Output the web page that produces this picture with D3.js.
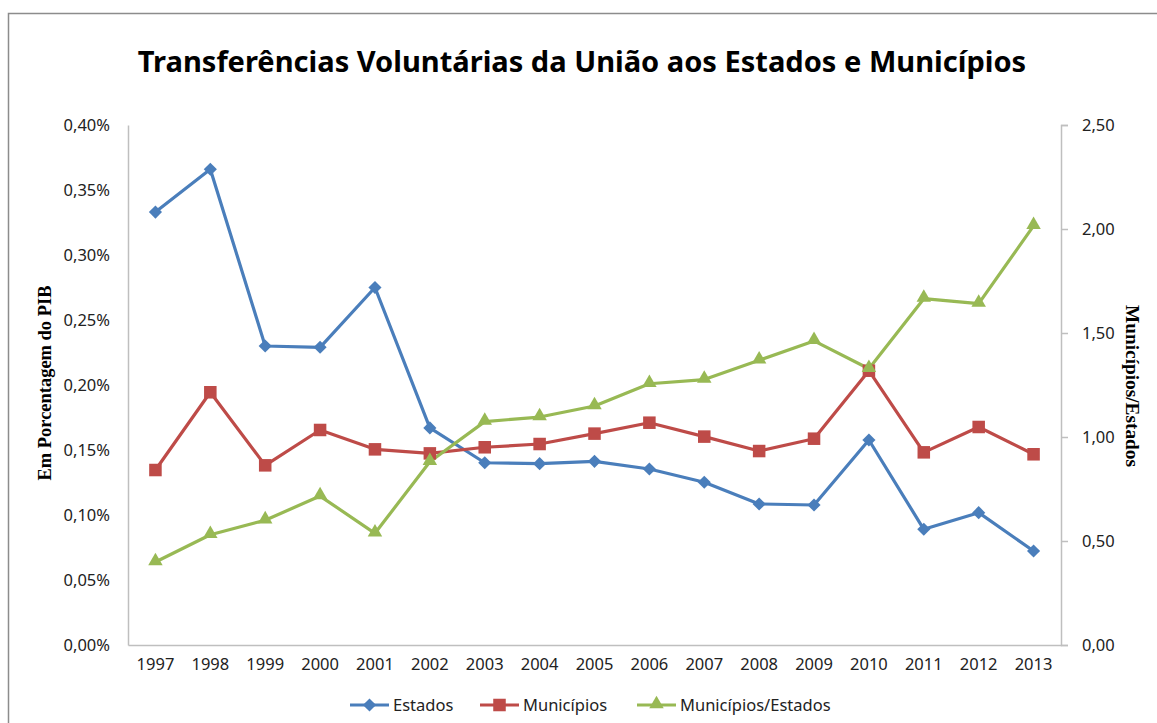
<!DOCTYPE html>
<html><head><meta charset="utf-8">
<script src="https://cdn.jsdelivr.net/npm/d3@7"></script>
<style>body{margin:0;background:#fff;} svg{display:block;}</style>
</head><body>
<svg id="chart" width="1157" height="723"></svg>
<script>
const years = ["1997","1998","1999","2000","2001","2002","2003","2004","2005","2006","2007","2008","2009","2010","2011","2012","2013"];
const estados = [0.333,0.366,0.230,0.229,0.275,0.167,0.1402,0.1395,0.1413,0.1354,0.1252,0.1085,0.1077,0.1577,0.0890,0.1018,0.0723];
const municipios = [0.1346,0.1944,0.1382,0.1654,0.1505,0.1474,0.1521,0.1546,0.1626,0.1710,0.1603,0.1492,0.1587,0.2110,0.1482,0.1677,0.1467];
const razao = [0.399,0.530,0.600,0.716,0.537,0.881,1.074,1.096,1.149,1.256,1.276,1.369,1.462,1.328,1.665,1.641,2.015];
const leftTicks = [0,0.05,0.10,0.15,0.20,0.25,0.30,0.35,0.40];
const rightTicks = [0,0.5,1.0,1.5,2.0,2.5];
const titleText = "Transferências Voluntárias da União aos Estados e Municípios";
const leftTitle = "Em Porcentagem do PIB";
const rightTitle = "Municípios/Estados";
const seriesNames = ["Estados","Municípios","Municípios/Estados"];

const colors = ["#4A7EBB","#BE4B48","#98B954"];
const fontUI = "'Noto Sans', 'Open Sans', sans-serif";
const fs = 16.5;
const svg = d3.select("#chart");

// frame
svg.append("rect").attr("x",8.5).attr("y",13.5).attr("width",1160).attr("height",720)
  .attr("fill","none").attr("stroke","#8c8c8c").attr("stroke-width",1.5);

const L = 128, R = 1061, T = 125, B = 645;
const x = d3.scaleBand().domain(years).range([L,R]);
const yL = d3.scaleLinear().domain([0,0.40]).range([B,T]);
const yR = d3.scaleLinear().domain([0,2.5]).range([B,T]);
const fmt = d => d.toFixed(2).replace(".",",");

// left axis
const gl = svg.append("g").attr("transform",`translate(${L},0)`)
  .call(d3.axisLeft(yL).tickValues(leftTicks).tickSize(0).tickPadding(18).tickFormat(d=>fmt(d)+"%"));
gl.select(".domain").attr("stroke","#bfbfbf").attr("stroke-width",1.5);
gl.selectAll("text").attr("font-family",fontUI).attr("font-size",fs).attr("fill","#222");

// right axis
const gr = svg.append("g").attr("transform",`translate(${R},0)`)
  .call(d3.axisRight(yR).tickValues(rightTicks).tickSize(7).tickPadding(14).tickFormat(fmt));
gr.select(".domain").attr("stroke","#bfbfbf").attr("stroke-width",1.5);
gr.selectAll(".tick line").attr("stroke","#bfbfbf").attr("stroke-width",1.5);
gr.selectAll("text").attr("font-family",fontUI).attr("font-size",fs).attr("fill","#222");

// bottom axis
const gb = svg.append("g").attr("transform",`translate(0,${B})`)
  .call(d3.axisBottom(x).tickSize(0).tickPadding(13));
gb.select(".domain").attr("stroke","#bfbfbf").attr("stroke-width",1.5);
gb.selectAll("text").attr("font-family",fontUI).attr("font-size",fs).attr("fill","#222");

// title
const t = svg.append("text").attr("x",582).attr("y",72).attr("text-anchor","middle")
  .attr("font-family",fontUI).attr("font-weight","bold").attr("font-size",30).attr("fill","#000").text(titleText);
const tw = t.node().getComputedTextLength();
t.attr("font-size", 30*889/tw);

// axis titles
svg.append("text").attr("transform",`translate(51,383) rotate(-90)`).attr("text-anchor","middle")
  .attr("font-family","'Liberation Serif', serif").attr("font-weight","bold").attr("font-size",18).attr("fill","#000")
  .attr("textLength",195).attr("lengthAdjust","spacingAndGlyphs")
  .text(leftTitle);
svg.append("text").attr("transform",`translate(1126,386) rotate(90)`).attr("text-anchor","middle")
  .attr("font-family","'Liberation Serif', serif").attr("font-weight","bold").attr("font-size",18).attr("fill","#000")
  .attr("textLength",162).attr("lengthAdjust","spacingAndGlyphs")
  .text(rightTitle);

const series = [
  {vals:estados, y:yL, sym:d3.symbolDiamond2, size:110},
  {vals:municipios, y:yL, sym:d3.symbolSquare2, size:200},
  {vals:razao, y:yR, sym:d3.symbolTriangle2, size:150}
];
const cx = d => x(d) + x.bandwidth()/2;

series.forEach((s,i) => {
  const line = d3.line().x((d,j)=>cx(years[j])).y(d=>s.y(d));
  svg.append("path").datum(s.vals).attr("d",line).attr("fill","none")
    .attr("stroke",colors[i]).attr("stroke-width",3.2).attr("stroke-linejoin","round");
});
series.forEach((s,i) => {
  const sym = d3.symbol().type(s.sym).size(s.size);
  svg.append("g").selectAll("path").data(s.vals).join("path")
    .attr("d",sym)
    .attr("transform",(d,j)=>`translate(${cx(years[j])},${s.y(d) + (i===2?-1:0)})`)
    .attr("fill",colors[i]);
});

// legend
const legX = [350, 480, 637];
const legY = 705;
seriesNames.forEach((n,i) => {
  const g = svg.append("g").attr("transform",`translate(${legX[i]},${legY})`);
  g.append("line").attr("x1",0).attr("x2",39).attr("y1",0).attr("y2",0)
    .attr("stroke",colors[i]).attr("stroke-width",3.2);
  g.append("path").attr("d",d3.symbol().type(series[i].sym).size(series[i].size)())
    .attr("transform",`translate(19.5,${i===2?-1:0})`).attr("fill",colors[i]);
  g.append("text").attr("x",43).attr("y",6).attr("font-family",fontUI).attr("font-size",fs).attr("fill","#222").text(n);
});
</script>
</body></html>
